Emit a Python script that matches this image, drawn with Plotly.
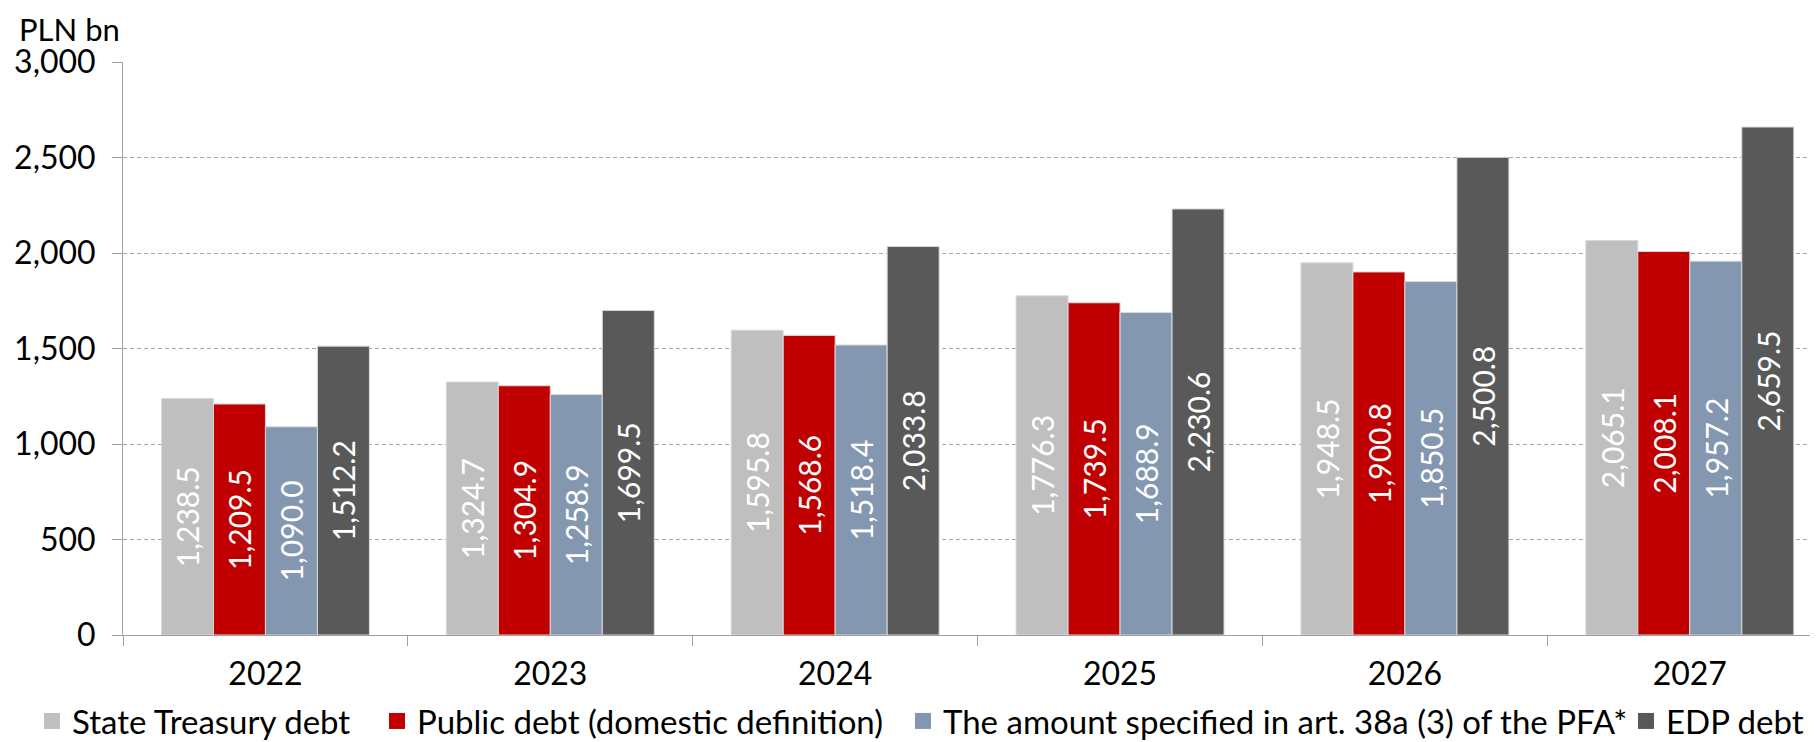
import plotly.graph_objects as go

years = ["2022", "2023", "2024", "2025", "2026", "2027"]

state_treasury = [1238.5, 1324.7, 1595.8, 1776.3, 1948.5, 2065.1]
public_debt = [1209.5, 1304.9, 1568.6, 1739.5, 1900.8, 2008.1]
art_38a = [1090.0, 1258.9, 1518.4, 1688.9, 1850.5, 1957.2]
edp_debt = [1512.2, 1699.5, 2033.8, 2230.6, 2500.8, 2659.5]

series_names = [
    "State Treasury debt",
    "Public debt (domestic definition)",
    "The amount specified in art. 38a (3) of the PFA*",
    "EDP debt",
]
series_values = [state_treasury, public_debt, art_38a, edp_debt]
series_colors = ["#BFBFBF", "#C00000", "#8497B0", "#595959"]

FONT = "Lato"
AXIS_GRAY = "#A0A0A0"

# page body has an 8px margin, so the figure is sized to the visible area
W, H = 1810, 734
L, R, T, B = 115, 0, 54, 107
pw, ph = W - L - R, H - T - B


def px_x(px):
    return (px - L) / pw


def px_y(py):
    return (H - B - py) / ph


fig = go.Figure()

for name, vals, color in zip(series_names, series_values, series_colors):
    fig.add_trace(go.Bar(
        x=years,
        y=vals,
        name=name,
        marker=dict(color=color, line=dict(color="#D9D9D9", width=1)),
        texttemplate="%{y:,.1f}",
        textposition="inside",
        insidetextanchor="middle",
        textangle=-90,
        constraintext="none",
        textfont=dict(family=FONT, size=30, color="white"),
        showlegend=False,
        hoverinfo="skip",
    ))

# one legend per entry so the spacing follows the original
legend_ids = ["legend", "legend2", "legend3", "legend4"]
legend_left = [24, 369, 895, 1618]
for name, color, lid in zip(series_names, series_colors, legend_ids):
    fig.add_trace(go.Scatter(
        x=[None], y=[None], mode="markers", name=name,
        marker=dict(symbol="square", size=16, color=color),
        showlegend=True, legend=lid,
    ))

legend_layout = {}
for lid, lx in zip(legend_ids, legend_left):
    legend_layout[lid] = dict(
        orientation="h",
        x=px_x(lx), xanchor="left",
        y=px_y(713), yanchor="middle",
        font=dict(family=FONT, size=33, color="black"),
        itemsizing="trace",
        bgcolor="rgba(0,0,0,0)",
        borderwidth=0,
    )

fig.update_layout(
    width=W,
    height=H,
    margin=dict(l=L, r=R, t=T, b=B, pad=0, autoexpand=False),
    paper_bgcolor="white",
    plot_bgcolor="white",
    font=dict(family=FONT, size=32, color="black"),
    barmode="group",
    bargap=0.27,
    bargroupgap=0,
    annotations=[dict(
        text="PLN bn",
        xref="paper", yref="paper",
        x=px_x(9), y=px_y(21),
        xanchor="left", yanchor="middle",
        showarrow=False,
        font=dict(family=FONT, size=31, color="black"),
    )],
    **legend_layout,
)

fig.update_xaxes(
    type="category",
    range=[-0.5, 5.45],
    automargin=False,
    showline=True, linecolor=AXIS_GRAY, linewidth=1,
    ticks="outside", tickson="boundaries", ticklen=10, tickcolor=AXIS_GRAY,
    ticklabelstandoff=11,
    showgrid=False,
    tickfont=dict(family=FONT, size=32, color="black"),
)

fig.update_yaxes(
    range=[0, 3000],
    dtick=500,
    tickformat=",",
    automargin=False,
    showline=True, linecolor=AXIS_GRAY, linewidth=1,
    ticks="outside", ticklen=10, tickcolor=AXIS_GRAY,
    ticklabelstandoff=10,
    showgrid=True, gridcolor="#A6A6A6", gridwidth=1, griddash="4px,3px",
    zeroline=False,
    tickfont=dict(family=FONT, size=32, color="black"),
)

fig.write_html("out.html")
